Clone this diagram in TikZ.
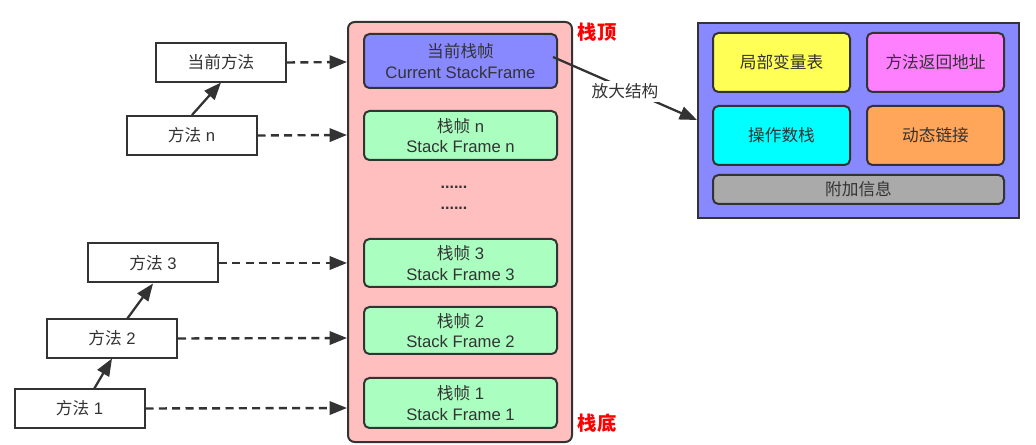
\documentclass[tikz,border=0pt]{standalone}
\usepackage{fontspec}
\setmainfont{Liberation Sans}
\newfontfamily\cjk{Noto Sans CJK SC}
\usetikzlibrary{arrows.meta,positioning}
\definecolor{ink}{HTML}{333333}
\definecolor{stackpink}{HTML}{FFBFBF}
\definecolor{framegreen}{HTML}{AAFFC0}
\definecolor{frameblue}{HTML}{8888FF}
\definecolor{cyellow}{HTML}{FFFF55}
\definecolor{cmagenta}{HTML}{FF80FF}
\definecolor{ccyan}{HTML}{00FFFF}
\definecolor{corange}{HTML}{FFA65A}
\definecolor{cgray}{HTML}{AAAAAA}
\tikzset{
  methodbox/.style={draw=ink,line width=1.5pt,fill=white,text=ink,minimum width=130*0.75pt,minimum height=39*0.75pt,inner sep=0pt,font=\fontsize{12.5}{14}\selectfont},
  framebox/.style={draw=ink,line width=1.5pt,rounded corners=4pt,fill=framegreen,text=ink,minimum width=193*0.75pt,inner sep=0pt,align=center,font=\fontsize{12.5}{15.5}\selectfont},
  partbox/.style={draw=ink,line width=1.5pt,rounded corners=4pt,text=ink,minimum width=137*0.75pt,minimum height=59*0.75pt,inner sep=0pt,font=\cjk\fontsize{12.5}{14}\selectfont},
  callarrow/.style={ink,line width=1.8pt,dash pattern=on 6pt off 4pt,-{Triangle[length=13pt,width=10pt]}},
  uparrow/.style={ink,line width=1.7pt,-{Triangle[length=13pt,width=10pt]}},
  redlabel/.style={text=red,font=\cjk\bfseries\fontsize{14.5}{16}\selectfont,inner sep=0pt},
  dotrow/.style={text=ink,inner sep=0pt,anchor=base,font=\bfseries\fontsize{12}{13}\selectfont}
}
\begin{document}
\begin{tikzpicture}[x=0.75pt,y=-0.75pt]
\useasboundingbox (0,0) rectangle (1036,445);
% stack container
\node[draw=ink,line width=1.5pt,rounded corners=5pt,fill=stackpink,minimum width=224*0.75pt,minimum height=420*0.75pt,inner sep=0pt] (stack) at (460,232) {};
% frames
\node[framebox,fill=frameblue,minimum height=54*0.75pt] (fcur) at (460.5,61) {{\cjk 当前栈帧}\\Current StackFrame};
\node[framebox,minimum height=49*0.75pt] (fn) at (460.5,135.5) {{\cjk 栈帧} n\\Stack Frame n};
\node[dotrow] (dots1) at (454,189) {......};
\node[dotrow] (dots2) at (454,210) {......};
\node[framebox,minimum height=48*0.75pt] (f3) at (460.5,263) {{\cjk 栈帧} 3\\Stack Frame 3};
\node[framebox,minimum height=47*0.75pt] (f2) at (460.5,330.5) {{\cjk 栈帧} 2\\Stack Frame 2};
\node[framebox,minimum height=50*0.75pt] (f1) at (460.5,403) {{\cjk 栈帧} 1\\Stack Frame 1};
\node[redlabel] (top) at (597,32) {栈顶};
\node[redlabel] (bottom) at (597,423) {栈底};
% methods
\node[methodbox] (mcur) at (221,62.5) {\cjk 当前方法};
\node[methodbox] (mn) at (191.5,135.5) {{\cjk 方法} n};
\node[methodbox] (m3) at (153,263) {{\cjk 方法} 3};
\node[methodbox] (m2) at (112,338.5) {{\cjk 方法} 2};
\node[methodbox] (m1) at (79.5,408.5) {{\cjk 方法} 1};
\coordinate (tcur) at (347,62);
\coordinate (tn) at (347,135);
\coordinate (t3) at (347,263);
\coordinate (t2) at (347,338);
\coordinate (t1) at (347,408);
\draw[callarrow] (mcur.east) -- (tcur);
\draw[callarrow] (mn.east) -- (tn);
\draw[callarrow] (m3.east) -- (t3);
\draw[callarrow] (m2.east) -- (t2);
\draw[callarrow] (m1.east) -- (t1);
\draw[uparrow] (mn.north -| 192,0) -- (221,82.5);
\draw[uparrow] (127,319) -- (153,283.5);
\draw[uparrow] (94,389) -- (112,358.5);
% detail structure
\node[draw=ink,line width=1.5pt,fill=frameblue,minimum width=321*0.75pt,minimum height=195*0.75pt,inner sep=0pt] (detail) at (858.5,120.5) {};
\node[partbox,fill=cyellow] (locals) at (781.5,62.5) {局部变量表};
\node[partbox,fill=cmagenta] (ret) at (935.5,62.5) {方法返回地址};
\node[partbox,fill=ccyan] (opstack) at (781.5,135.5) {操作数栈};
\node[partbox,fill=corange] (dyn) at (935.5,135.5) {动态链接};
\node[partbox,fill=cgray,minimum width=291*0.75pt,minimum height=29*0.75pt] (extra) at (858.5,189.5) {附加信息};
\coordinate (zoomstart) at (553,57);
\draw[ink,line width=1.7pt,-{Triangle[length=13pt,width=10pt]}] (zoomstart) -- node[fill=white,text=ink,inner sep=2pt,font=\cjk\fontsize{12.5}{14}\selectfont,pos=0.5,yshift=-2pt] (zoomlabel) {放大结构} (detail.west |- 0,120);
\end{tikzpicture}
\end{document}
